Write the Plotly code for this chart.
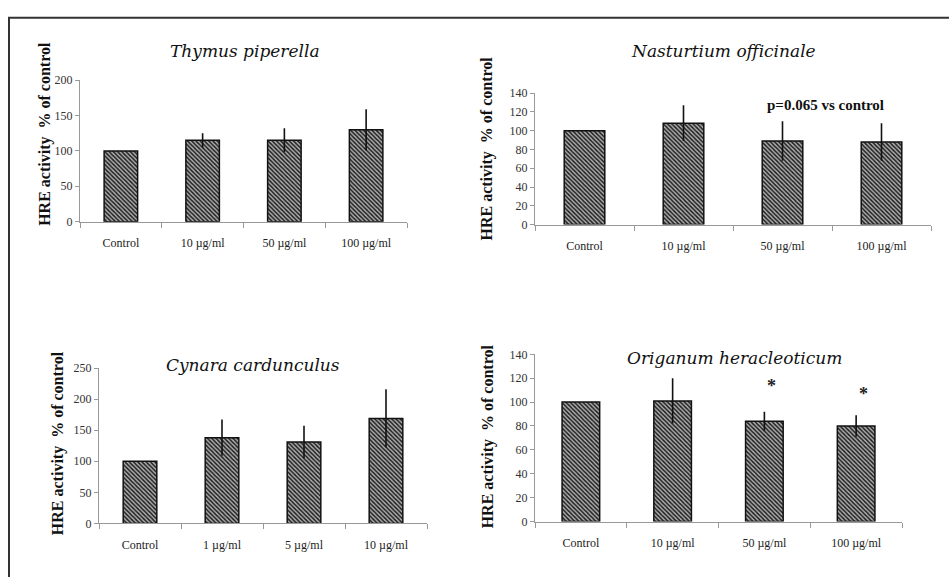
import plotly.graph_objects as go

# ---- data -------------------------------------------------------------
doses_a = ["Control", "10 µg/ml", "50 µg/ml", "100 µg/ml"]
doses_c = ["Control", "1 µg/ml", "5 µg/ml", "10 µg/ml"]

thymus_values = [100, 115, 115, 130]
thymus_err = [0, 10, 17, 29]

nasturtium_values = [100, 108, 89, 88]
nasturtium_err = [0, 19, 21, 20]

cynara_values = [100, 138, 131, 169]
cynara_err = [0, 29, 26, 47]

origanum_values = [100, 101, 84, 80]
origanum_err = [0, 19, 8, 9]

panel_titles = ["Thymus piperella", "Nasturtium officinale",
                "Cynara cardunculus", "Origanum heracleoticum"]
y_title = "HRE activity\u00a0 % of control"
p_note = "p=0.065 vs control"
star_marks = ["50 µg/ml", "100 µg/ml"]

# ---- geometry (pixels in a 949 x 577 page) ------------------------------
W, H = 949, 577
SERIF = "Liberation Serif"
SERIF_ITALIC = "DejaVu Serif"


def px_x(x):
    return x / W


def px_y(y):
    return (H - y) / H


# (x_left, x_right, y_zero, y_top) of each plot area
areas = [
    (80, 407, 220, 75),
    (535, 931, 223, 88.3),
    (99, 427, 529.3, 370),
    (535, 902, 527.3, 356),
]
y_ranges = [200, 140, 250, 140]
y_dticks = [50, 20, 50, 20]

series = [
    (doses_a, thymus_values, thymus_err),
    (doses_a, nasturtium_values, nasturtium_err),
    (doses_c, cynara_values, cynara_err),
    (doses_a, origanum_values, origanum_err),
]

fig = go.Figure()
layout = {}

for i, ((cats, vals, errs), (xl, xr, y0, yt)) in enumerate(zip(series, areas)):
    n = i + 1
    xa = "x" if n == 1 else f"x{n}"
    ya = "y" if n == 1 else f"y{n}"
    fig.add_trace(go.Bar(
        x=cats, y=vals, xaxis=xa, yaxis=ya, width=0.41,
        marker=dict(
            color="#9a9a9a",
            line=dict(color="#111", width=1.5),
            pattern=dict(shape="\\", size=3, solidity=0.5,
                         fgcolor="#1e1e1e", bgcolor="#b0b0b0", fillmode="replace"),
        ),
        error_y=dict(type="data", array=errs, visible=True,
                     color="#111", thickness=1.6, width=0),
        showlegend=False,
    ))
    xkey = "xaxis" if n == 1 else f"xaxis{n}"
    ykey = "yaxis" if n == 1 else f"yaxis{n}"
    layout[xkey] = dict(
        domain=[px_x(xl), px_x(xr)], anchor=ya, type="category",
        categoryorder="array", categoryarray=cats,
        showline=True, linecolor="#999", linewidth=1,
        ticks="outside", ticklen=5, tickcolor="#999", tickson="boundaries",
        tickfont=dict(family=SERIF, size=12, color="#222"),
        ticklabelstandoff=10, showgrid=False, zeroline=False, fixedrange=True,
    )
    layout[ykey] = dict(
        domain=[px_y(y0), px_y(yt)], anchor=xa,
        range=[0, y_ranges[i]], dtick=y_dticks[i], tick0=0,
        showline=True, linecolor="#999", linewidth=1,
        ticks="outside", ticklen=4, tickcolor="#999",
        tickfont=dict(family=SERIF, size=12, color="#333"),
        showgrid=False, zeroline=False, fixedrange=True,
    )

annotations = []

# panel titles
title_pos = [(245, 45), (723, 45), (253, 367), (734, 360)]
for t, (cx, cy) in zip(panel_titles, title_pos):
    annotations.append(dict(
        text=t, x=px_x(cx), y=px_y(cy), xref="paper", yref="paper",
        showarrow=False, xanchor="center", yanchor="middle",
        font=dict(family=SERIF_ITALIC, size=17, color="#111", style="italic"),
    ))

# y-axis titles
ytitle_pos = [(45, 130), (487, 145), (58, 447), (488, 440)]
for cx, cy in ytitle_pos:
    annotations.append(dict(
        text=y_title, x=px_x(cx), y=px_y(cy),
        xref="paper", yref="paper", textangle=-90, showarrow=False,
        xanchor="center", yanchor="middle",
        font=dict(family=SERIF, size=16, color="#111", weight="bold"),
    ))

# significance note (Nasturtium)
annotations.append(dict(
    text=p_note, x=px_x(825), y=px_y(100), xref="paper", yref="paper",
    showarrow=False, xanchor="center", yanchor="middle",
    font=dict(family=SERIF, size=15, color="#111", weight="bold"),
))

# asterisks (Origanum)
for cat, shift in zip(star_marks, [14, 9]):
    k = doses_a.index(cat)
    annotations.append(dict(
        text="*", x=cat, y=origanum_values[k] + origanum_err[k],
        xref="x4", yref="y4", showarrow=False, xanchor="center", yanchor="bottom",
        yshift=shift, xshift=7,
        font=dict(family=SERIF, size=18, color="#222", weight="bold"),
    ))

# outer frame
shapes = [dict(type="rect", xref="paper", yref="paper",
               x0=px_x(9), x1=1.2, y0=-0.2, y1=px_y(11),
               line=dict(color="#333", width=2), fillcolor="rgba(0,0,0,0)")]

fig.update_layout(
    width=W, height=H, margin=dict(l=0, r=0, t=0, b=0),
    paper_bgcolor="white", plot_bgcolor="white",
    bargap=0.59, annotations=annotations, shapes=shapes, **layout,
)

fig.write_html("out.html", config={"displayModeBar": False})
